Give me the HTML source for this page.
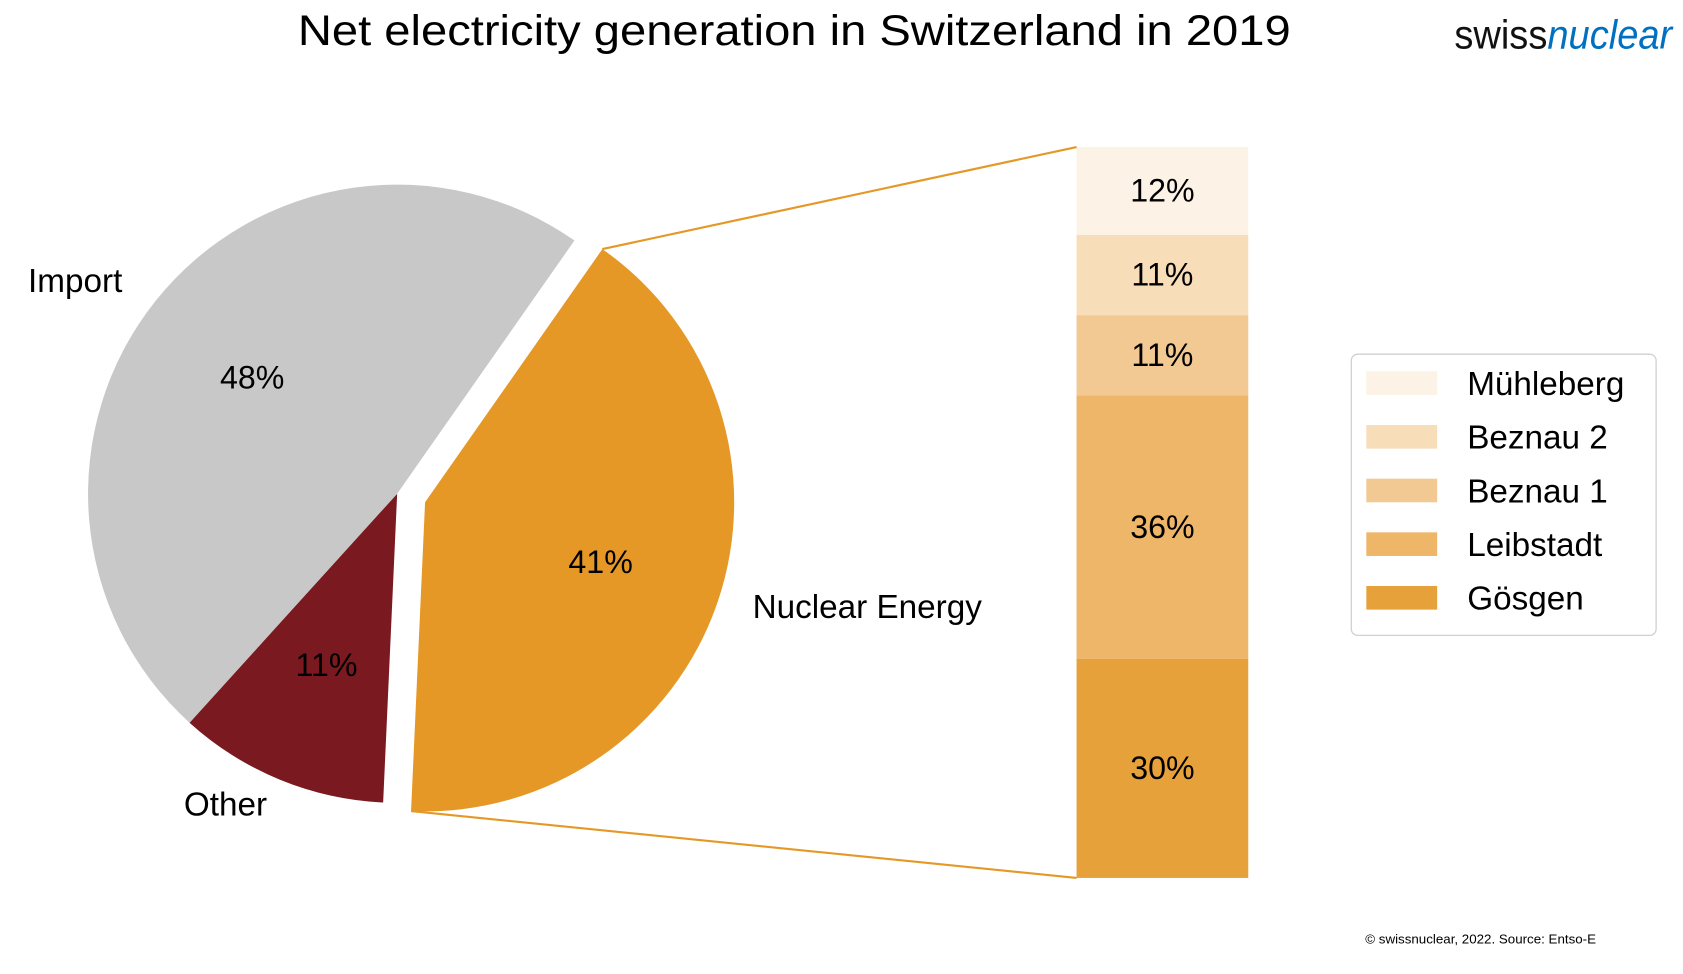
<!DOCTYPE html>
<html><head><meta charset="utf-8"><style>
html,body{margin:0;padding:0;background:#fff;}
svg{display:block;font-family:"Liberation Sans",sans-serif;}
</style></head><body>
<svg id="chart" width="1683" height="974" viewBox="0 0 1568 907.5" xmlns="http://www.w3.org/2000/svg">
<text x="740" y="42" font-size="40" text-anchor="middle" textLength="925" lengthAdjust="spacingAndGlyphs" fill="#000">Net electricity generation in Switzerland in 2019</text>
<text x="1355" y="45" font-size="38" textLength="203" lengthAdjust="spacingAndGlyphs"><tspan fill="#111">swiss</tspan><tspan fill="#0070c0" font-style="italic">nuclear</tspan></text>
<g id="pie"></g>
<g id="bar"></g>
<g id="legend">
<rect x="1259" y="330" width="284" height="262" rx="6" fill="#fff" stroke="#d0d0d0" stroke-width="1.2"/>
</g>
<text x="1272" y="879" font-size="12" textLength="215" lengthAdjust="spacingAndGlyphs" fill="#000">© swissnuclear, 2022. Source: Entso-E</text>
</svg>
<script>
const pieLabels = ["Nuclear Energy", "Other", "Import"];
const pieValues = [41, 11, 48];
const pieColors = ["#e59826", "#7a1a20", "#c8c8c8"];
const barLabels = ["Gösgen", "Leibstadt", "Beznau 1", "Beznau 2", "Mühleberg"];
const barValues = [30, 36, 11, 11, 12];
const barColors = ["#e7a13a", "#edb669", "#f2c993", "#f8ddb9", "#fcf2e6"];

const NS = "http://www.w3.org/2000/svg";
function mk(tag, attrs, parent){const e=document.createElementNS(NS,tag);for(const k in attrs)e.setAttribute(k,attrs[k]);parent.appendChild(e);return e;}
const pie=document.getElementById('pie'), bar=document.getElementById('bar'), legend=document.getElementById('legend'), svg=document.getElementById('chart');
const cx=370, cy=460, R=288, startDeg=-55;
const total=pieValues.reduce((a,b)=>a+b,0);
const rad=d=>d*Math.PI/180;
let a0=startDeg;
const outerPos=[[808,566],[210,750],[70,262]];
let nucStart=null, nucEnd=null;
pieValues.forEach((v,i)=>{
  const span=v/total*360, a1=a0+span, mid=(a0+a1)/2;
  let ox=0, oy=0;
  if(i===0){ox=26;oy=8;}
  const c=[cx+ox, cy+oy];
  const p0=[c[0]+R*Math.cos(rad(a0)), c[1]+R*Math.sin(rad(a0))];
  const p1=[c[0]+R*Math.cos(rad(a1)), c[1]+R*Math.sin(rad(a1))];
  const large=span>180?1:0;
  const path=mk('path',{d:`M${c[0]},${c[1]} L${p0[0]},${p0[1]} A${R},${R} 0 ${large} 1 ${p1[0]},${p1[1]} Z`,fill:pieColors[i]},pie);
  
  
  if(i===0){nucStart=p0;nucEnd=p1;}
  const lr=R*0.6;
  const t=mk('text',{x:c[0]+lr*Math.cos(rad(mid)),y:c[1]+lr*Math.sin(rad(mid))+10,'font-size':30,'text-anchor':'middle',fill:'#000'},pie);
  t.textContent=v+'%';
  
  
  const o=mk('text',{x:outerPos[i][0],y:outerPos[i][1]+10,'font-size':31,'text-anchor':'middle',fill:'#000'},pie);
  o.textContent=pieLabels[i];
  
  
  a0=a1;
});
const bx=1003, bw=160, bTop=137, bBot=818;
const btot=barValues.reduce((a,b)=>a+b,0);
const ys=v=>v/btot*(bBot-bTop);
let yb=bBot;
barValues.forEach((v,i)=>{
  const h=ys(v);
  const r=mk('rect',{x:bx,y:yb-h,width:bw,height:h,fill:barColors[i]},bar);
  
  
  const t=mk('text',{x:bx+bw/2,y:yb-h/2+10,'font-size':30,'text-anchor':'middle',fill:'#000'},bar);
  t.textContent=v+'%';
  
  
  yb-=h;
});
const l1=mk('line',{x1:nucStart[0],y1:nucStart[1],x2:bx,y2:bTop,stroke:'#e59826','stroke-width':2},svg);


const l2=mk('line',{x1:nucEnd[0],y1:nucEnd[1],x2:bx,y2:bBot,stroke:'#e59826','stroke-width':2},svg);


for(let k=0;k<barLabels.length;k++){
  const i=barLabels.length-1-k, y=357+k*50;
  const s=mk('rect',{x:1273,y:y-11,width:66,height:22,fill:barColors[i]},legend);
  
  
  const t=mk('text',{x:1367,y:y+11,'font-size':31,fill:'#000'},legend);
  t.textContent=barLabels[i];
  
  
}
</script>
</body></html>
